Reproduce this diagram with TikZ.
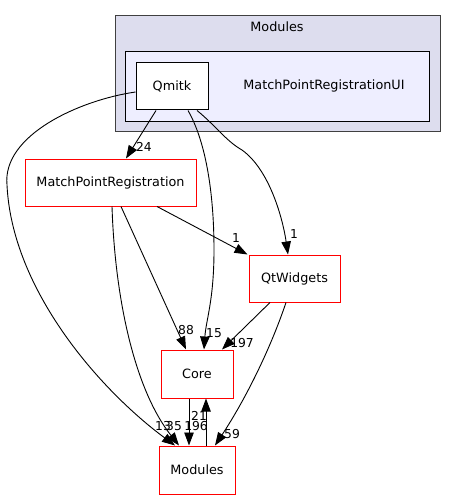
\documentclass[tikz,border=0pt]{standalone}
\usepackage{fontspec}
\setmainfont{DejaVu Sans}
\usetikzlibrary{arrows.meta}
\definecolor{clouter}{HTML}{DDDDEE}
\definecolor{clinner}{HTML}{EEEEFF}
\definecolor{clborder}{HTML}{404040}
\begin{document}
\begin{tikzpicture}[x=1pt,y=-1pt,
  every node/.style={font=\fontsize{12.8}{15}\selectfont, inner sep=0pt},
  dirbox/.style={draw=red, fill=white, line width=1pt, minimum height=47pt},
  cldir/.style={draw=black, fill=white, line width=1pt, minimum height=47pt},
  dep/.style={draw=black, line width=0.9pt, -{Triangle[length=13pt,width=9.5pt]}},
  elab/.style={font=\fontsize{12.3}{14}\selectfont, fill=none},
]
\useasboundingbox (0,0) rectangle (456,500);
% clusters
\draw[clborder, fill=clouter, line width=1pt] (115,16) rectangle (440,131);
\node (lblmodules) at (277,27) {Modules};
\draw[black, fill=clinner, line width=1pt] (125,52) rectangle (429,121);
\node (lblui) at (324,86) {MatchPointRegistrationUI};
% nodes
\node[cldir, minimum width=72pt] (qmitk) at (172,86.5) {Qmitk};
\node[dirbox, minimum width=171pt] (mpr) at (110.5,182.5) {MatchPointRegistration};
\node[dirbox, minimum width=91pt] (qtw) at (294.5,278.5) {QtWidgets};
\node[dirbox, minimum width=72pt, minimum height=48pt] (core) at (197,374) {Core};
\node[dirbox, minimum width=76pt, minimum height=48pt] (mods) at (197,470) {Modules};
% edges
\draw[dep] ([xshift=-16pt]qmitk.south) -- ([xshift=15.5pt]mpr.north);
\node[elab] (l24) at (144,147) {24};

\coordinate (lp) at (7,185);
\draw[dep] ([yshift=-5.5pt]qmitk.west) .. controls (80,100) and (2,135) .. (lp)
  .. controls (12,290) and (100,390) .. ([xshift=-22pt]mods.north);
\node[elab] (l13) at (163,426) {13};

\coordinate (cp) at (214,250);
\draw[dep] ([xshift=16pt]qmitk.south) .. controls (205,140) and (214,190) .. (cp)
  .. controls (214,300) and (206,320) .. ([xshift=7pt]core.north);
\node[elab] (l15) at (214,333) {15};

\coordinate (qp) at (242,150);
\draw[dep] ([xshift=25pt]qmitk.south) .. controls (215,125) and (226,141) .. (qp)
  .. controls (270,170) and (283,220) .. ([xshift=-6.5pt]qtw.north);
\node[elab] (l1b) at (294,234) {1};

\draw[dep] ([xshift=46.5pt]mpr.south) -- ([xshift=-1pt]qtw.north west);
\node[elab] (l1a) at (236,238) {1};

\draw[dep] ([xshift=10.5pt]mpr.south) -- ([xshift=-11pt]core.north);
\node[elab] (l88) at (186,330) {88};

\draw[dep] ([xshift=1.5pt]mpr.south) .. controls (115,300) and (135,390) .. ([xshift=-18pt]mods.north);
\node[elab] (l35) at (174,426) {35};

\draw[dep] ([xshift=-24.5pt]qtw.south) -- ([xshift=25pt]core.north);
\node[elab] (l197) at (242,343) {197};

\draw[dep] ([xshift=-8.5pt]qtw.south) .. controls (270,350) and (245,400) .. ([xshift=18pt]mods.north);
\node[elab] (l59) at (232,434) {59};

\draw[dep] ([xshift=-8pt]core.south) -- ([xshift=-8pt]mods.north);
\node[elab] (l196) at (196,426) {196};

\draw[dep] ([xshift=9pt]mods.north) -- ([xshift=9pt]core.south);
\node[elab] (l21) at (199,416) {21};
\end{tikzpicture}
\end{document}
